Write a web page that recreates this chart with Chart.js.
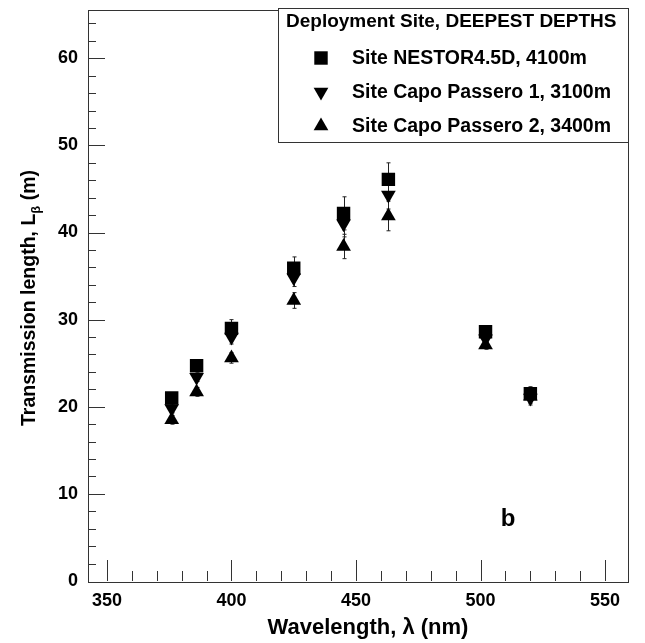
<!DOCTYPE html>
<html>
<head>
<meta charset="utf-8">
<script src="https://cdn.jsdelivr.net/npm/chart.js@4.4.1/dist/chart.umd.min.js"></script>
<style>
body { margin: 0; background: #fff; }
</style>
</head>
<body>
<canvas id="myChart" width="645" height="643"></canvas>
<script>
// data
const wavelengths = [376, 386, 400, 425, 445, 463, 502, 520]
const nestor = [21.0, 24.7, 29.0, 35.9, 42.2, 46.1, 28.6, 21.5]
const nestorErr = [0.5, 0.5, 1.0, 1.3, 1.9, 1.9, 0.6, 0.8]
const capo1 = [19.8, 23.4, 28.0, 34.8, 41.0, 44.3, 27.8, 21.0]
const capo1Err = [0.5, 0.5, 0.8, 1.0, 1.5, 1.6, 0.5, 0.8]
const capo2 = [18.5, 21.7, 25.6, 32.2, 38.4, 41.9, 27.1, 21.2]
const capo2Err = [0.5, 0.5, 0.6, 0.9, 1.4, 1.7, 0.5, 0.8]

const legendTitle = "Deployment Site, DEEPEST DEPTHS"
const seriesNames = ["Site NESTOR4.5D, 4100m", "Site Capo Passero 1, 3100m", "Site Capo Passero 2, 3400m"]
const xRange = [342.4, 559.2]
const yRange = [0, 65.6]
const xMinorStep = 10
const yMinorStep = 2

const FONT = "'Liberation Sans', Arial, Helvetica, sans-serif"

function points(vals, errs) {
    return wavelengths.map((w, i) => ({ x: w, y: vals[i], err: errs[i] }))
}

// error bars, drawn under the markers
const errorBars = {
    id: 'errorBars',
    beforeDatasetsDraw(chart) {
        const ctx = chart.ctx
        const xs = chart.scales.x
        const ys = chart.scales.y
        ctx.save()
        ctx.strokeStyle = '#222'
        ctx.lineWidth = 1
        chart.data.datasets.forEach(ds => {
            ds.data.forEach(p => {
                const px = Math.round(xs.getPixelForValue(p.x)) + 0.5
                const top = ys.getPixelForValue(p.y + p.err)
                const bot = ys.getPixelForValue(p.y - p.err)
                ctx.beginPath()
                ctx.moveTo(px, top); ctx.lineTo(px, bot)
                ctx.moveTo(px - 2, top); ctx.lineTo(px + 2, top)
                ctx.moveTo(px - 2, bot); ctx.lineTo(px + 2, bot)
                ctx.stroke()
            })
        })
        ctx.restore()
    }
}

// frame, inward ticks, titles, legend box
const decorations = {
    id: 'decorations',
    afterDraw(chart) {
        const ctx = chart.ctx
        const a = chart.chartArea
        const xs = chart.scales.x
        const ys = chart.scales.y
        ctx.save()
        ctx.strokeStyle = '#333'
        ctx.lineWidth = 1
        ctx.strokeRect(Math.round(a.left) + 0.5, Math.round(a.top) + 0.5, Math.round(a.right - a.left), Math.round(a.bottom - a.top))

        ctx.beginPath()
        for (let v = Math.ceil(xRange[0] / xMinorStep) * xMinorStep; v <= xRange[1]; v += xMinorStep) {
            const px = Math.round(xs.getPixelForValue(v)) + 0.5
            const len = v % 50 === 0 ? 21 : 10
            ctx.moveTo(px, a.bottom); ctx.lineTo(px, a.bottom - len)
        }
        for (let v = yMinorStep; v <= yRange[1]; v += yMinorStep) {
            const py = Math.round(ys.getPixelForValue(v)) + 0.5
            const len = v % 10 === 0 ? 17 : 8
            ctx.moveTo(a.left, py); ctx.lineTo(a.left + len, py)
        }
        ctx.stroke()

        ctx.fillStyle = '#000'
        // x title
        ctx.font = 'bold 22px ' + FONT
        ctx.textAlign = 'center'
        ctx.textBaseline = 'middle'
        ctx.fillText('Wavelength, \u03bb (nm)', 368, 628)

        // y title with subscript beta
        ctx.save()
        ctx.translate(28, 298)
        ctx.rotate(-Math.PI / 2)
        ctx.textAlign = 'left'
        ctx.textBaseline = 'alphabetic'
        const p1 = 'Transmission length, L'
        const p3 = ' (m)'
        ctx.font = 'bold 19.5px ' + FONT
        const w1 = ctx.measureText(p1).width
        const w3 = ctx.measureText(p3).width
        ctx.font = 'bold 13px ' + FONT
        const w2 = ctx.measureText('\u03b2').width
        const start = -(w1 + w2 + w3) / 2
        ctx.font = 'bold 19.5px ' + FONT
        ctx.fillText(p1, start, 7)
        ctx.font = 'bold 13px ' + FONT
        ctx.fillText('\u03b2', start + w1, 12)
        ctx.font = 'bold 19.5px ' + FONT
        ctx.fillText(p3, start + w1 + w2, 7)
        ctx.restore()

        // panel letter
        ctx.font = 'bold 24px ' + FONT
        ctx.textAlign = 'center'
        ctx.fillText('b', 508, 519)

        // legend
        const lx = 278, ly = 8, lw = 350, lh = 134
        ctx.fillStyle = '#fff'
        ctx.fillRect(lx, ly, lw, lh)
        ctx.strokeStyle = '#333'
        ctx.strokeRect(lx + 0.5, ly + 0.5, lw, lh)
        ctx.fillStyle = '#000'
        ctx.font = 'bold 19px ' + FONT
        ctx.textAlign = 'left'
        ctx.fillText(legendTitle, 286, 22)
        seriesNames.forEach((name, i) => {
            const ds = chart.data.datasets.find(d => d.label === name)
            const y = 58 + i * 34
            ctx.fillStyle = '#000'
            Chart.helpers.drawPoint(ctx, {
                pointStyle: ds.pointStyle, rotation: ds.pointRotation || 0,
                radius: ds.pointRadius, borderWidth: 0
            }, 321, y)
            ctx.fillStyle = '#000'
            ctx.font = 'bold 19.5px ' + FONT
            ctx.fillText(name, 352, y + 1)
        })
        ctx.restore()
    }
}

const config = {
    type: 'scatter',
    data: {
        datasets: [
            {
                label: seriesNames[2], data: points(capo2, capo2Err),
                pointStyle: 'triangle', pointRadius: 8.5, pointRotation: 0,
                backgroundColor: '#000', borderWidth: 0
            },
            {
                label: seriesNames[1], data: points(capo1, capo1Err),
                pointStyle: 'triangle', pointRadius: 8.5, pointRotation: 180,
                backgroundColor: '#000', borderWidth: 0
            },
            {
                label: seriesNames[0], data: points(nestor, nestorErr),
                pointStyle: 'rect', pointRadius: 9.5,
                backgroundColor: '#000', borderWidth: 0
            }
        ]
    },
    options: {
        responsive: false,
        animation: false,
        layout: { padding: { left: 0, right: 17, top: 8, bottom: 0 } },
        plugins: { legend: { display: false }, tooltip: { enabled: false } },
        scales: {
            x: {
                type: 'linear', min: xRange[0], max: xRange[1],
                grid: { display: false, drawTicks: false },
                border: { display: false },
                ticks: { stepSize: 50, includeBounds: false, padding: 9, color: '#000',
                    font: { family: FONT, weight: 'bold', size: 18 } },
                afterFit(s) { s.height = 62; s.paddingLeft = 0; s.paddingRight = 0 }
            },
            y: {
                type: 'linear', min: yRange[0], max: yRange[1],
                grid: { display: false, drawTicks: false },
                border: { display: false },
                ticks: { stepSize: 10, includeBounds: false, padding: 10, color: '#000',
                    font: { family: FONT, weight: 'bold', size: 18 } },
                afterFit(s) { s.width = 88; s.paddingTop = 0; s.paddingBottom = 0 }
            }
        }
    },
    plugins: [errorBars, decorations]
}

new Chart(document.getElementById('myChart'), config)
</script>
</body>
</html>
